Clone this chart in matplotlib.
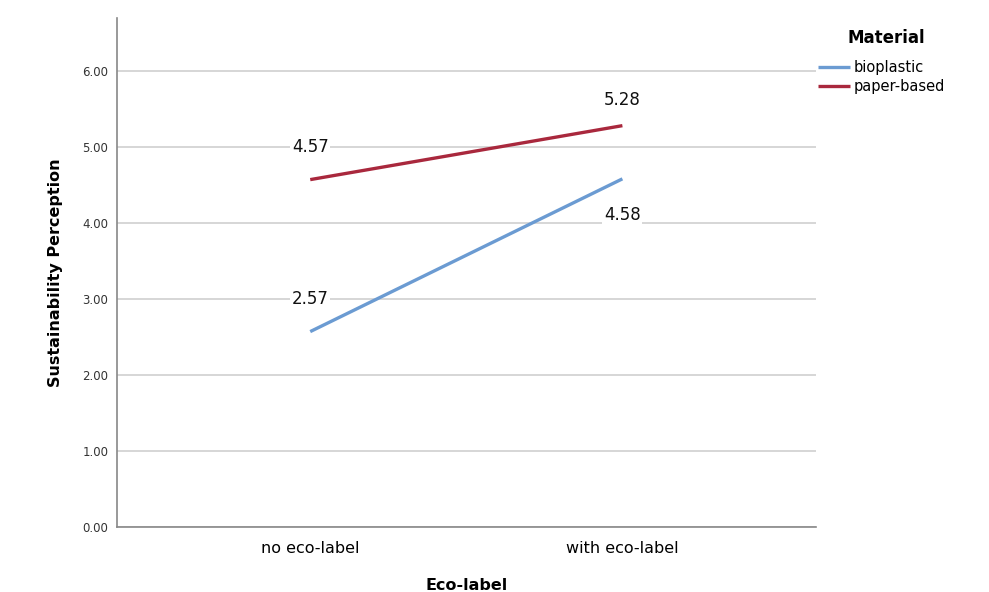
import matplotlib.pyplot as plt

categories = ["no eco-label", "with eco-label"]
materials = ["bioplastic", "paper-based"]
bioplastic = [2.57, 4.58]
paper_based = [4.57, 5.28]
yticks = [0, 1, 2, 3, 4, 5, 6]

colors = {"bioplastic": "#6b9bd2", "paper-based": "#a9283d"}

fig = plt.figure(figsize=(9.89, 5.92), dpi=100)
ax = fig.add_axes([0.118, 0.110, 0.707, 0.860])

x = list(range(len(categories)))
for name, vals in zip(materials, [bioplastic, paper_based]):
    ax.plot(x, vals, color=colors[name], lw=2.4, label=name, solid_capstyle="butt")

# value labels (white box like the original)
offsets = {
    ("bioplastic", 0): 33, ("bioplastic", 1): -36,
    ("paper-based", 0): 33, ("paper-based", 1): 26,
}
for name, vals in zip(materials, [bioplastic, paper_based]):
    for i, v in enumerate(vals):
        ax.annotate(f"{v:.2f}", (x[i], v), xytext=(0, offsets[(name, i)]),
                    textcoords="offset pixels", ha="center", va="center",
                    fontsize=12, color="#111111",
                    bbox=dict(boxstyle="square,pad=0.1", fc="white", ec="none"))

ax.set_xlim(-0.62, 1.62)
ax.set_ylim(0, 6.7)
ax.set_xticks(x)
ax.set_xticklabels(categories, fontsize=11.5)
ax.set_yticks(yticks)
ax.set_yticklabels([f"{t:.2f}" for t in yticks], fontsize=8.5, color="#333333")
ax.tick_params(length=0, pad=6)
ax.tick_params(axis="x", pad=10)

ax.grid(axis="y", color="#cfcfcf", lw=1.2)
ax.set_axisbelow(True)
for s in ["top", "right"]:
    ax.spines[s].set_visible(False)
for s in ["left", "bottom"]:
    ax.spines[s].set_color("#888888")
    ax.spines[s].set_linewidth(1.2)

ax.set_ylabel("Sustainability Perception", fontsize=11.5, fontweight="bold", labelpad=14)
ax.set_xlabel("Eco-label", fontsize=11.5, fontweight="bold", labelpad=16)

fig.text(0.896, 0.936, "Material", ha="center", va="center",
         fontsize=12, fontweight="bold")
fig.legend(loc="upper left", bbox_to_anchor=(0.827, 0.898), frameon=False,
           fontsize=10.5, handlelength=2.2, handletextpad=0.25,
           labelspacing=0.28, borderaxespad=0, borderpad=0)

fig.savefig("out.png", dpi=100)
